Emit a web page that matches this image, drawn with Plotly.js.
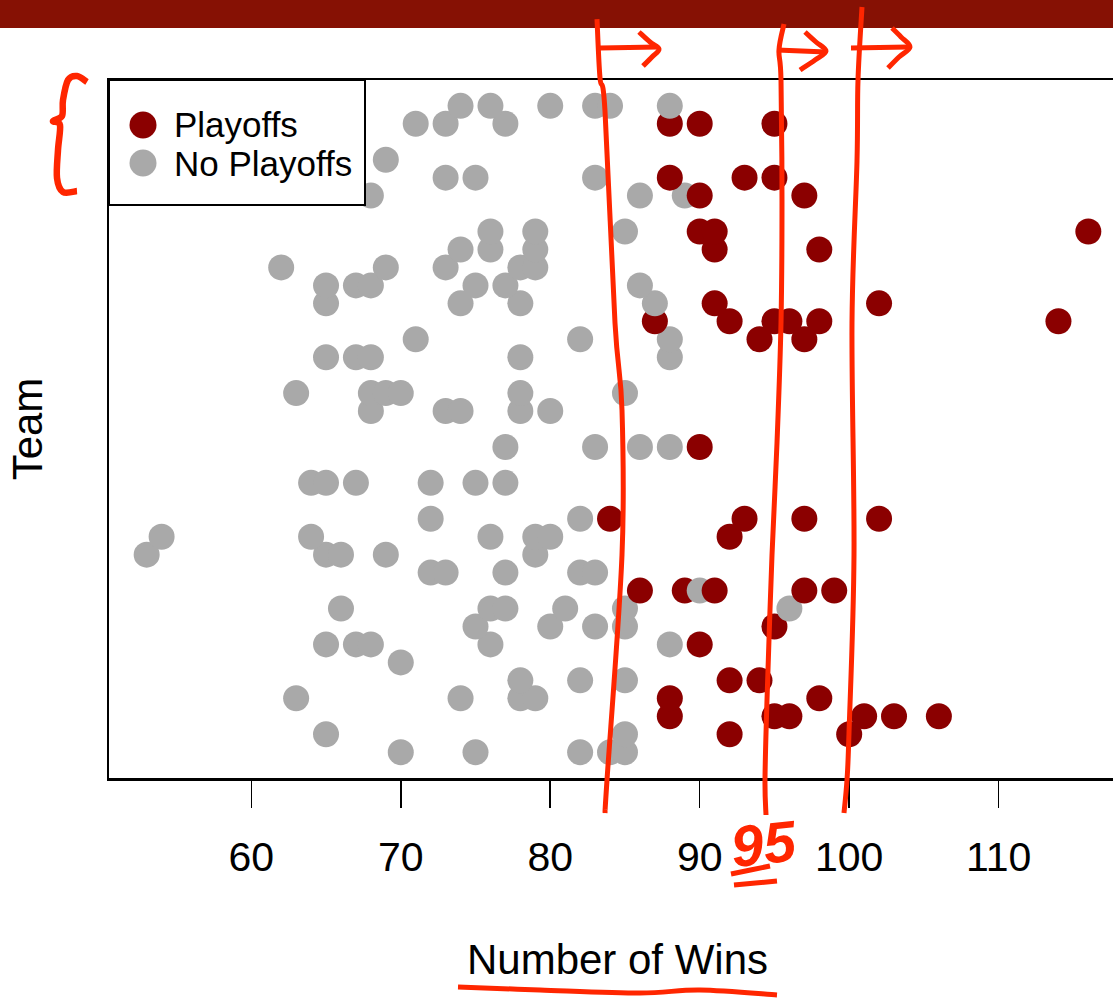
<!DOCTYPE html>
<html>
<head>
<meta charset="utf-8">
<script src="https://cdn.plot.ly/plotly-3.0.1.min.js"></script>
<style>
html,body{margin:0;padding:0;overflow:hidden;background:#ffffff;}
#chart{width:1130px;height:999px;}
</style>
</head>
<body>
<div id="chart"></div>
<script>
// ---------------- data (team 1 = bottom row, team 37 = top row) ----------------
const winsByTeam = [
  [70,75,82,84,85],
  [65,85,92,100],
  [88,95,96,101,103,106],
  [63,74,78,79,88,98],
  [78,82,85,92,94],
  [70],
  [65,67,68,76,88,90],
  [75,80,83,85,95],
  [66,76,77,81,85,96],
  [86,89,90,91,97,99],
  [72,73,77,82,83],
  [53,65,66,69,79],
  [54,64,76,79,80,92],
  [72,82,84,93,97,102],
  [],
  [64,65,67,72,75,77],
  [],
  [77,83,86,88,90],
  [],
  [68,73,74,78,80],
  [63,68,69,70,78,85],
  [],
  [65,67,68,78,88],
  [71,82,88,94,97],
  [87,92,95,96,98,114],
  [65,74,78,87,91,102],
  [65,67,68,75,77,86],
  [62,69,73,78,79],
  [74,76,79,91,98],
  [76,79,85,90,91,116],
  [],
  [68,86,89,90,97],
  [73,75,83,88,93,95],
  [69],
  [],
  [71,73,77,88,90,95],
  [74,76,80,83,84,88]
];
const playoffsByTeam = [
  [0,0,0,0,0],
  [0,0,1,1],
  [1,1,1,1,1,1],
  [0,0,0,0,1,1],
  [0,0,0,1,1],
  [0],
  [0,0,0,0,0,1],
  [0,0,0,0,1],
  [0,0,0,0,0,0],
  [1,1,0,1,1,1],
  [0,0,0,0,0],
  [0,0,0,0,0],
  [0,0,0,0,0,1],
  [0,0,1,1,1,1],
  [],
  [0,0,0,0,0,0],
  [],
  [0,0,0,0,1],
  [],
  [0,0,0,0,0],
  [0,0,0,0,0,0],
  [],
  [0,0,0,0,0],
  [0,0,0,1,1],
  [1,1,1,1,1,1],
  [0,0,0,0,1,1],
  [0,0,0,0,0,0],
  [0,0,0,0,0],
  [0,0,0,1,1],
  [0,0,0,1,1,1],
  [],
  [0,0,0,1,1],
  [0,0,0,1,1,1],
  [0],
  [],
  [0,0,0,1,1,1],
  [0,0,0,0,0,0]
];
const xTickVals = [60,70,80,90,100,110];
const legendLabels = ['Playoffs','No Playoffs'];
const groupColors = ['#A9A9A9','#8B0000'];   // [no playoffs, playoffs]

// flatten (drawn bottom row first, as in the original)
const teamY = [], winsX = [], pointColor = [];
winsByTeam.forEach((row, i) => {
  row.forEach((w, j) => {
    teamY.push(i + 1);
    winsX.push(w);
    pointColor.push(groupColors[playoffsByTeam[i][j]]);
  });
});

// ---------------- geometry helpers for overlay drawing ----------------
const ML = 109, MT = 80, PW = 1017, PH = 698, FIGW = 1130, FIGH = 999;
const fx = x => (x - ML) / PW;
const fy = y => (MT + PH - y) / PH;
const f = p => fx(p[0]).toFixed(5) + ',' + fy(p[1]).toFixed(5);
function smooth(pts){
  let d = 'M' + f(pts[0]);
  for (let i = 0; i < pts.length - 1; i++){
    const p0 = pts[i-1] || pts[i], p1 = pts[i], p2 = pts[i+1], p3 = pts[i+2] || p2;
    const c1 = [p1[0] + (p2[0]-p0[0])/6, p1[1] + (p2[1]-p0[1])/6];
    const c2 = [p2[0] - (p3[0]-p1[0])/6, p2[1] - (p3[1]-p1[1])/6];
    d += ' C' + f(c1) + ' ' + f(c2) + ' ' + f(p2);
  }
  return d;
}

// hand-drawn ink strokes (screen pixels) and their widths
const inkStrokes = [
  [[597,19],[600,78],[605,111],[615,323],[622,410],[622,555],[607,780],[605,813]],
  [[600,48],[658,47]],
  [[639,32],[650,42],[659,49],[652,57],[643,66]],
  [[784,24],[779,50],[781,80],[782,200],[781,323],[777,443],[772,555],[767,700],[765,780],[766,815]],
  [[777,50],[826,52]],
  [[805,32],[816,42],[826,51],[815,60],[800,70]],
  [[862,7],[858,80],[857,161],[852,323],[854,555],[849,733],[847,780],[844,813]],
  [[851,48],[908,47]],
  [[892,28],[901,37],[910,47],[899,57],[888,68]],
  [[87,82],[77,76],[68,80],[63,100],[62,116],[53,121],[60,125],[58,150],[57,178],[63,192],[77,191]],
  [[731,874],[770,866]],
  [[734,885],[777,881]],
  [[458,987],[540,990],[640,993],[700,990],[777,995]]
];
const inkWidths = [5,5,5,5,5,5,5,5,5,6.5,5,5,5];
const ink = '#ff2600';

const shapes = [];
shapes.push({type:'rect', xref:'paper', yref:'paper', x0:fx(0), x1:fx(FIGW), y0:fy(0), y1:fy(28),
  fillcolor:'#861104', line:{width:0}, layer:'above'});
// legend box
shapes.push({type:'rect', xref:'paper', yref:'paper', x0:fx(109), x1:fx(365), y0:fy(205), y1:fy(80),
  fillcolor:'#ffffff', line:{color:'#000000', width:2}, layer:'above'});
[[125, groupColors[1]], [163, groupColors[0]]].forEach(([yy, c]) => {
  shapes.push({type:'circle', xref:'paper', yref:'paper', xsizemode:'pixel', ysizemode:'pixel',
    xanchor:fx(143), yanchor:fy(yy), x0:-13.5, x1:13.5, y0:-13.5, y1:13.5,
    fillcolor:c, line:{width:0}, layer:'above'});
});
inkStrokes.forEach((s, i) => shapes.push({type:'path', xref:'paper', yref:'paper', path:smooth(s),
  line:{color:ink, width:inkWidths[i]}, layer:'above'}));

const FONT = 'Liberation Sans, Arial, Helvetica, sans-serif';
const annotations = [
  {xref:'paper', yref:'paper', x:fx(172), y:fy(125), xanchor:'left', yanchor:'middle', showarrow:false,
   text:legendLabels[0], font:{family:FONT, size:35, color:'#000'}},
  {xref:'paper', yref:'paper', x:fx(172), y:fy(163), xanchor:'left', yanchor:'middle', showarrow:false,
   text:legendLabels[1], font:{family:FONT, size:35, color:'#000'}},
  {xref:'paper', yref:'paper', x:fx(763), y:fy(843), xanchor:'center', yanchor:'middle', showarrow:false,
   text:'<b><i>95</i></b>', textangle:-6, font:{family:FONT, size:58, color:ink}}
];

const trace = {
  type:'scatter', mode:'markers', x:winsX, y:teamY,
  marker:{size:26, color:pointColor, line:{width:0}},
  showlegend:false, hoverinfo:'x+y'
};

const layout = {
  width:FIGW, height:FIGH,
  margin:{l:ML, r:FIGW-ML-PW, t:MT, b:FIGH-MT-PH, pad:0},
  paper_bgcolor:'#ffffff', plot_bgcolor:'#ffffff',
  font:{family:FONT, color:'#000'},
  showlegend:false,
  xaxis:{range:[50.48,118.52], tickvals:xTickVals, ticktext:xTickVals.map(String),
    ticks:'outside', ticklen:27, tickwidth:1.5, tickcolor:'#000', ticklabelstandoff:14,
    tickfont:{family:FONT, size:41, color:'#000'},
    showline:true, mirror:true, linecolor:'#000', linewidth:2.5,
    showgrid:false, zeroline:false, automargin:false,
    title:{text:'Number of Wins', font:{family:FONT, size:42, color:'#000'}, standoff:66}},
  yaxis:{range:[-0.44,38.44], showticklabels:false, ticks:'',
    showline:true, mirror:true, linecolor:'#000', linewidth:2.5,
    showgrid:false, zeroline:false, automargin:false,
    title:{text:'Team', font:{family:FONT, size:42, color:'#000'}, standoff:51}},
  shapes:shapes, annotations:annotations
};

Plotly.newPlot('chart', [trace], layout, {displayModeBar:false, staticPlot:true});
</script>
</body>
</html>
